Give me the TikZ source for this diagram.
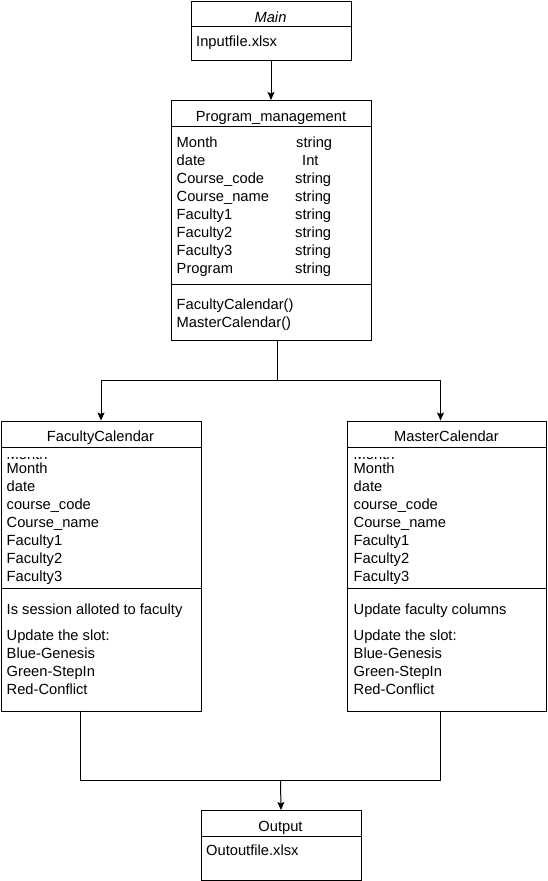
\documentclass[tikz,border=0pt]{standalone}
\usepackage{fontspec}
\setmainfont{Liberation Sans}
\usetikzlibrary{arrows.meta}
\newcommand\dfont{\fontsize{14.7}{18}\selectfont}
\tikzset{
  box/.style={draw, line width=1pt, inner sep=0pt, anchor=north west},
  txt/.style={anchor=base west, inner sep=0pt, font=\dfont},
  ttl/.style={anchor=base, inner sep=0pt, font=\dfont},
  conn/.style={line width=1pt},
  arr/.style={conn, -{Stealth[length=8pt,width=7pt,inset=1.5pt]}},
}
\begin{document}
\begin{tikzpicture}[x=1pt,y=-1pt]
\useasboundingbox (0,0) rectangle (548,881);

% ---------- Main ----------
\node[box, minimum width=160pt, minimum height=59pt] (main) at (190.5,1) {};
\draw[conn] (190.5,26) -- (350.5,26);
\node[ttl, font=\dfont\itshape] (mainT) at (270.5,22) {Main};
\node[txt] (mainA) at (196,46.5) {Inputfile.xlsx};

% ---------- Program_management ----------
\node[box, minimum width=200pt, minimum height=240pt] (pm) at (171,100) {};
\draw[conn] (171,126.5) -- (371,126.5);
\draw[conn] (171,284.5) -- (371,284.5);
\node[ttl] (pmT) at (271,121) {Program\_management};
\node[txt] (pmA1) at (176.5,147) {Month};
\node[txt] (pmA2) at (176.5,165) {date};
\node[txt] (pmA3) at (176.5,183) {Course\_code};
\node[txt] (pmA4) at (176.5,201) {Course\_name};
\node[txt] (pmA5) at (176.5,219) {Faculty1};
\node[txt] (pmA6) at (176.5,237) {Faculty2};
\node[txt] (pmA7) at (176.5,255) {Faculty3};
\node[txt] (pmA8) at (176.5,273) {Program};
\node[txt] (pmB1) at (296,147) {string};
\node[txt] (pmB2) at (302,165) {Int};
\node[txt] (pmB3) at (295,183) {string};
\node[txt] (pmB4) at (295,201) {string};
\node[txt] (pmB5) at (295,219) {string};
\node[txt] (pmB6) at (295,237) {string};
\node[txt] (pmB7) at (295,255) {string};
\node[txt] (pmB8) at (295,273) {string};
\node[txt] (pmM1) at (176.5,309) {FacultyCalendar()};
\node[txt] (pmM2) at (176.5,327) {MasterCalendar()};

% ---------- FacultyCalendar ----------
\node[box, minimum width=200pt, minimum height=290pt] (fc) at (0.5,420.5) {};
\draw[conn] (0.5,447) -- (200.5,447);
\draw[conn] (0.5,588) -- (200.5,588);
\node[ttl] (fcT) at (100.5,441) {FacultyCalendar};
\begin{scope}
  \clip (1,457) rectangle (200,459.6);
  \node[txt] (fcA0) at (6.5,459.6) {Month};
\end{scope}
\node[txt] (fcA1) at (6.5,473) {Month};
\node[txt] (fcA2) at (6.5,491) {date};
\node[txt] (fcA3) at (6.5,509) {course\_code};
\node[txt] (fcA4) at (6.5,527) {Course\_name};
\node[txt] (fcA5) at (6.5,545) {Faculty1};
\node[txt] (fcA6) at (6.5,563) {Faculty2};
\node[txt] (fcA7) at (6.5,581) {Faculty3};
\node[txt] (fcM1) at (6.5,614) {Is session alloted to faculty};
\node[txt] (fcM2) at (6.5,640) {Update the slot:};
\node[txt] (fcM3) at (6.5,658) {Blue-Genesis};
\node[txt] (fcM4) at (6.5,676) {Green-StepIn};
\node[txt] (fcM5) at (6.5,694) {Red-Conflict};

% ---------- MasterCalendar ----------
\node[box, minimum width=199pt, minimum height=290pt] (mc) at (347,420.5) {};
\draw[conn] (347,447) -- (546,447);
\draw[conn] (347,588) -- (546,588);
\node[ttl] (mcT) at (446.5,441) {MasterCalendar};
\begin{scope}
  \clip (348,457) rectangle (545,459.6);
  \node[txt] (mcA0) at (353.5,459.6) {Month};
\end{scope}
\node[txt] (mcA1) at (353.5,473) {Month};
\node[txt] (mcA2) at (353.5,491) {date};
\node[txt] (mcA3) at (353.5,509) {course\_code};
\node[txt] (mcA4) at (353.5,527) {Course\_name};
\node[txt] (mcA5) at (353.5,545) {Faculty1};
\node[txt] (mcA6) at (353.5,563) {Faculty2};
\node[txt] (mcA7) at (353.5,581) {Faculty3};
\node[txt] (mcM1) at (353.5,614) {Update faculty columns};
\node[txt] (mcM2) at (353.5,640) {Update the slot:};
\node[txt] (mcM3) at (353.5,658) {Blue-Genesis};
\node[txt] (mcM4) at (353.5,676) {Green-StepIn};
\node[txt] (mcM5) at (353.5,694) {Red-Conflict};

% ---------- Output ----------
\node[box, minimum width=160pt, minimum height=69.5pt] (out) at (200.5,810) {};
\draw[conn] (200.5,836) -- (360.5,836);
\node[ttl] (outT) at (280.5,831) {Output};
\node[txt] (outA) at (206,855) {Outoutfile.xlsx};

% ---------- connectors ----------
\draw[arr] (main.south) -- (main.south |- pm.north);
\coordinate (j1) at (277.5,380.5);
\draw[conn] (j1 |- pm.south) -- (j1);
\draw[arr] (j1) -| (fc.north);
\coordinate (mcin) at (440.5,420.5);
\draw[arr] (j1) -| (mcin);
\coordinate (fcout) at (80.5,710.5);
\coordinate (mcout) at (440.5,710.5);
\coordinate (j2) at (280.5,780.5);
\draw[conn] (fcout) |- (j2) -| (mcout);
\draw[arr] (j2) -- (out.north);
\end{tikzpicture}
\end{document}
